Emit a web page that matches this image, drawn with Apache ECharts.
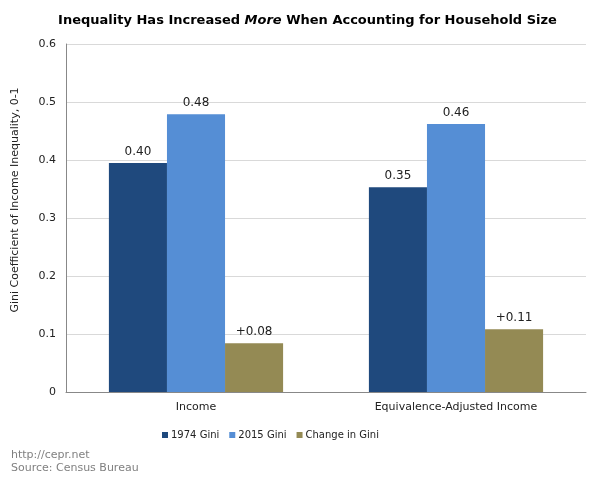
<!DOCTYPE html>
<html><head><meta charset="utf-8">
<script src="https://cdn.jsdelivr.net/npm/echarts@6/dist/echarts.min.js"></script>
<style>html,body{margin:0;padding:0;background:#fff}#c{width:615px;height:483px}</style>
</head><body><div id="c"></div>
<script>
const categories = ["Income", "Equivalence-Adjusted Income"];
const gini1974 = [0.395, 0.353];
const gini2015 = [0.479, 0.462];
const giniChange = [0.084, 0.108];
const labels1974 = ["0.40", "0.35"];
const labels2015 = ["0.48", "0.46"];
const labelsChange = ["+0.08", "+0.11"];
const seriesNames = ["1974 Gini", "2015 Gini", "Change in Gini"];
const yTicks = [0, 0.1, 0.2, 0.3, 0.4, 0.5, 0.6];

const font = "Verdana, 'DejaVu Sans', sans-serif";
function mk(name, data, labs, color) {
  return {
    name, type: 'bar', data, barGap: '0%', barCategoryGap: '33%',
    itemStyle: { color },
    label: { show: true, position: 'top', distance: 5, color: '#222', fontFamily: font, fontSize: 12,
      formatter: p => labs[p.dataIndex] },
    emphasis: { disabled: true }
  };
}
const chart = echarts.init(document.getElementById('c'));
chart.setOption({
  animation: false,
  title: {
    text: '{b|Inequality Has Increased }{i|More}{b| When Accounting for Household Size}',
    left: 'center', top: 9,
    textStyle: { rich: {
      b: { fontFamily: font, fontWeight: 'bold', fontSize: 13, color: '#000' },
      i: { fontFamily: font, fontWeight: 'bold', fontStyle: 'italic', fontSize: 13, color: '#000' }
    } }
  },
  grid: { left: 66, right: 29, top: 44, bottom: 91 },
  legend: {
    data: seriesNames, top: 425, left: 157, itemWidth: 6, itemHeight: 6, itemGap: 10,
    icon: 'rect', textStyle: { fontFamily: font, fontSize: 10, color: '#222', padding: [0, 0, 0, -2] }
  },
  graphic: [
    { type: 'text', left: 11, top: 449, style: { text: 'http://cepr.net\nSource: Census Bureau', fill: '#808080', font: '11px ' + font, lineHeight: 13 } },
    { type: 'text', x: 15, y: 200, rotation: Math.PI / 2, style: { text: 'Gini Coefficient of Income Inequality, 0-1', fill: '#222', font: '11px ' + font, align: 'center', verticalAlign: 'middle' } }
  ],
  xAxis: {
    type: 'category', data: categories,
    axisLine: { lineStyle: { color: '#888' } },
    axisTick: { show: false },
    axisLabel: { fontFamily: font, fontSize: 11, color: '#222', margin: 10 }
  },
  yAxis: {
    type: 'value', min: 0, max: 0.6, interval: 0.1,
    axisLine: { show: true, lineStyle: { color: '#888' } },
    axisTick: { show: false },
    axisLabel: { fontFamily: font, fontSize: 11, color: '#222', margin: 10,
      formatter: v => { const t = yTicks.find(x => Math.abs(x - v) < 1e-9); return t === 0 ? '0' : String(Math.round(t * 10) / 10); } },
    splitLine: { lineStyle: { color: '#d9d9d9' } }
  },
  series: [
    mk(seriesNames[0], gini1974, labels1974, '#1F497D'),
    mk(seriesNames[1], gini2015, labels2015, '#558ED5'),
    mk(seriesNames[2], giniChange, labelsChange, '#948A54')
  ]
});
</script></body></html>
